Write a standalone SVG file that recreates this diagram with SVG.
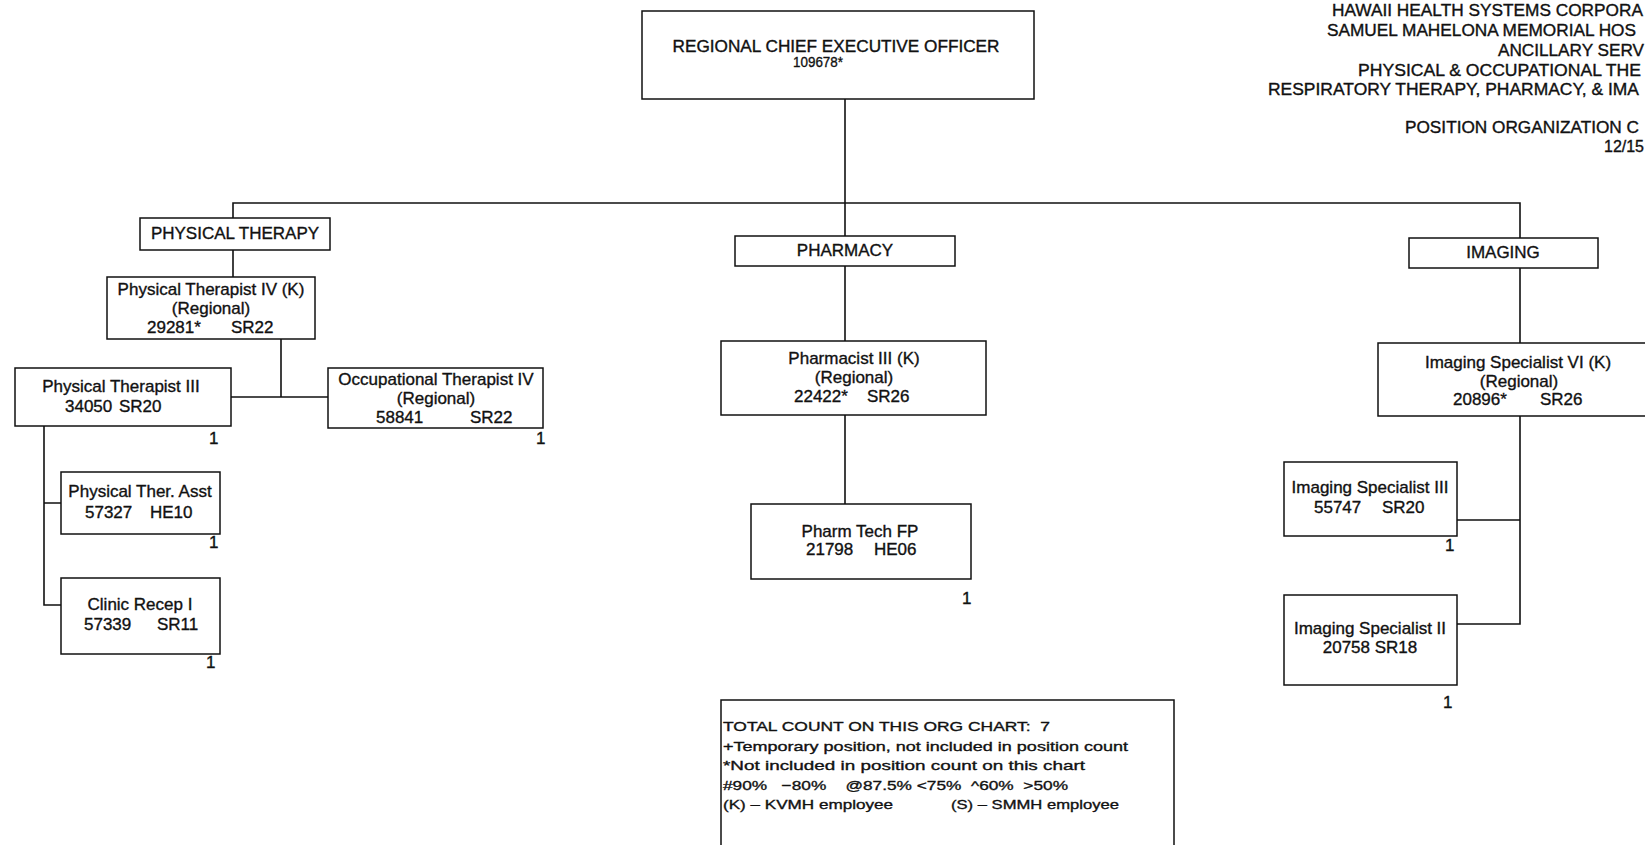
<svg xmlns="http://www.w3.org/2000/svg" width="1645" height="845" viewBox="0 0 1645 845">
<style>
text{font-family:"Liberation Sans",Arial,sans-serif;fill:#111;stroke:#111;stroke-width:0.35}
.n{font-size:17px;text-anchor:middle}
.s{font-size:17px}
.h{font-size:16px}
.c{font-size:15px}
.l{font-size:13.5px}
.box{fill:none;stroke:#111;stroke-width:1.5}
.ln{fill:none;stroke:#111;stroke-width:1.6}
</style>
<rect width="1645" height="845" fill="#fff"/>
<g id="header">
<text class="h" x="1332" y="16" textLength="311" lengthAdjust="spacingAndGlyphs">HAWAII HEALTH SYSTEMS CORPORA</text>
<text class="h" x="1327" y="36" textLength="309" lengthAdjust="spacingAndGlyphs">SAMUEL MAHELONA MEMORIAL HOS</text>
<text class="h" x="1498" y="56" textLength="146" lengthAdjust="spacingAndGlyphs">ANCILLARY SERV</text>
<text class="h" x="1358" y="76" textLength="283" lengthAdjust="spacingAndGlyphs">PHYSICAL &amp; OCCUPATIONAL THE</text>
<text class="h" x="1268" y="95" textLength="371" lengthAdjust="spacingAndGlyphs">RESPIRATORY THERAPY, PHARMACY, &amp; IMA</text>
<text class="h" x="1405" y="133" textLength="234" lengthAdjust="spacingAndGlyphs">POSITION ORGANIZATION C</text>
<text class="h" x="1604" y="152" textLength="40" lengthAdjust="spacingAndGlyphs">12/15</text>
</g>
<g id="connectors">
<path class="ln" d="M845 99 V236"/>
<path class="ln" d="M233 218 V203 H1520 V238"/>
<path class="ln" d="M233 250 V277"/>
<path class="ln" d="M281 339 V397 M231 397 H328"/>
<path class="ln" d="M44 426 V605 H61 M44 503 H61"/>
<path class="ln" d="M845 266 V341 M845 415 V504"/>
<path class="ln" d="M1520 268 V343 M1520 416 V624 H1457 M1520 520 H1457"/>
</g>
<g id="ceo">
<rect class="box" x="642" y="11" width="392" height="88"/>
<text class="h" x="836" y="52" text-anchor="middle" textLength="327" lengthAdjust="spacingAndGlyphs">REGIONAL CHIEF EXECUTIVE OFFICER</text>
<text class="c" x="818" y="67" text-anchor="middle" textLength="50" lengthAdjust="spacingAndGlyphs">109678*</text>
</g>
<g id="physical-therapy">
<rect class="box" x="140" y="218" width="190" height="32"/>
<text class="n" x="235" y="239">PHYSICAL THERAPY</text>
</g>
<g id="pt-iv">
<rect class="box" x="107" y="277" width="208" height="62"/>
<text class="n" x="211" y="295">Physical Therapist IV (K)</text>
<text class="n" x="211" y="314">(Regional)</text>
<text class="s" x="147" y="333">29281*</text>
<text class="s" x="231" y="333">SR22</text>
</g>
<g id="pt-iii">
<rect class="box" x="15" y="368" width="216" height="58"/>
<text class="n" x="121" y="392">Physical Therapist III</text>
<text class="s" x="65" y="412">34050</text>
<text class="s" x="119" y="412">SR20</text>
<text class="s" x="209" y="444">1</text>
</g>
<g id="ot-iv">
<rect class="box" x="328" y="368" width="215" height="60"/>
<text class="n" x="436" y="385">Occupational Therapist IV</text>
<text class="n" x="436" y="404">(Regional)</text>
<text class="s" x="376" y="423">58841</text>
<text class="s" x="470" y="423">SR22</text>
<text class="s" x="536" y="444">1</text>
</g>
<g id="pt-asst">
<rect class="box" x="61" y="472" width="159" height="62"/>
<text class="n" x="140" y="497">Physical Ther. Asst</text>
<text class="s" x="85" y="518">57327</text>
<text class="s" x="150" y="518">HE10</text>
<text class="s" x="209" y="548">1</text>
</g>
<g id="clinic-recep">
<rect class="box" x="61" y="578" width="159" height="76"/>
<text class="n" x="140" y="610">Clinic Recep I</text>
<text class="s" x="84" y="630">57339</text>
<text class="s" x="157" y="630">SR11</text>
<text class="s" x="206" y="668">1</text>
</g>
<g id="pharmacy">
<rect class="box" x="735" y="236" width="220" height="30"/>
<text class="n" x="845" y="256">PHARMACY</text>
</g>
<g id="pharmacist">
<rect class="box" x="721" y="341" width="265" height="74"/>
<text class="n" x="854" y="364">Pharmacist III (K)</text>
<text class="n" x="854" y="383">(Regional)</text>
<text class="s" x="794" y="402">22422*</text>
<text class="s" x="867" y="402">SR26</text>
</g>
<g id="pharm-tech">
<rect class="box" x="751" y="504" width="220" height="75"/>
<text class="n" x="860" y="537">Pharm Tech FP</text>
<text class="s" x="806" y="555">21798</text>
<text class="s" x="874" y="555">HE06</text>
<text class="s" x="962" y="604">1</text>
</g>
<g id="imaging">
<rect class="box" x="1409" y="238" width="189" height="30"/>
<text class="n" x="1503" y="258">IMAGING</text>
</g>
<g id="imaging-vi">
<path class="box" d="M1646 343 H1378 V416 H1646"/>
<text class="n" x="1518" y="368">Imaging Specialist VI (K)</text>
<text class="n" x="1519" y="387">(Regional)</text>
<text class="s" x="1453" y="405">20896*</text>
<text class="s" x="1540" y="405">SR26</text>
</g>
<g id="imaging-iii">
<rect class="box" x="1284" y="462" width="173" height="74"/>
<text class="n" x="1370" y="493">Imaging Specialist III</text>
<text class="s" x="1314" y="513">55747</text>
<text class="s" x="1382" y="513">SR20</text>
<text class="s" x="1445" y="551">1</text>
</g>
<g id="imaging-ii">
<rect class="box" x="1284" y="595" width="173" height="90"/>
<text class="n" x="1370" y="634">Imaging Specialist II</text>
<text class="n" x="1370" y="653">20758 SR18</text>
<text class="s" x="1443" y="708">1</text>
</g>
<g id="legend">
<path class="box" d="M721 846 V700 H1174 V846"/>
<text class="l" x="723" y="731" xml:space="preserve" textLength="327" lengthAdjust="spacingAndGlyphs">TOTAL COUNT ON THIS ORG CHART:  7</text>
<text class="l" x="723" y="751" textLength="405" lengthAdjust="spacingAndGlyphs">+Temporary position, not included in position count</text>
<text class="l" x="723" y="770" textLength="362" lengthAdjust="spacingAndGlyphs">*Not included in position count on this chart</text>
<text class="l" x="723" y="790" xml:space="preserve" textLength="345" lengthAdjust="spacingAndGlyphs">#90%   −80%    @87.5% &lt;75%  ^60%  &gt;50%</text>
<text class="l" x="723" y="809" textLength="170" lengthAdjust="spacingAndGlyphs">(K) – KVMH employee</text>
<text class="l" x="951" y="809" textLength="168" lengthAdjust="spacingAndGlyphs">(S) – SMMH employee</text>
</g>
</svg>
